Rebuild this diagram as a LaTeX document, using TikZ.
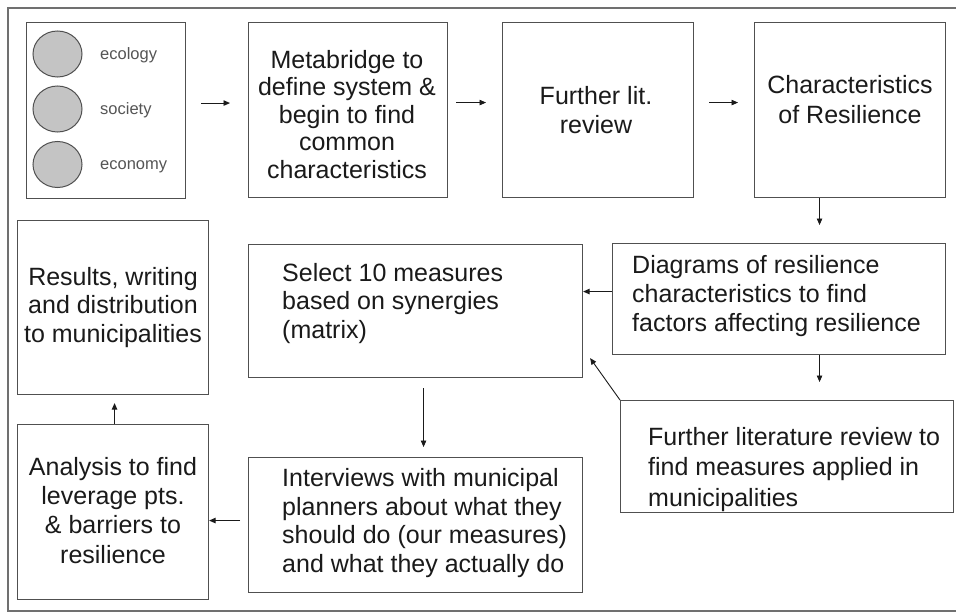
\documentclass[tikz,border=0pt]{standalone}
\usepackage{fontspec}
\setmainfont{Liberation Sans}
\usetikzlibrary{arrows.meta,calc,shapes.geometric}
\definecolor{framegray}{HTML}{707070}
\definecolor{boxgray}{HTML}{505050}
\definecolor{inkgray}{HTML}{1A1A1A}
\definecolor{discfill}{HTML}{C4C4C4}
\definecolor{labelgray}{HTML}{555555}
\tikzset{
  stepbox/.style={draw=boxgray, line width=1.1pt, inner sep=0pt, anchor=north west},
  bigtext/.style={font=\fontsize{25pt}{28.5pt}\selectfont, text=inkgray, inner sep=0pt, anchor=base},
  lefttext/.style={bigtext, align=left, anchor=base west},
  midtext/.style={bigtext, align=center},
  disc/.style={draw=boxgray, line width=1pt, fill=discfill, ellipse, inner sep=0pt},
  tag/.style={font=\fontsize{16.5pt}{19pt}\selectfont, text=labelgray, inner sep=0pt, anchor=base west},
  arr/.style={draw=inkgray, line width=0.9pt, -{Triangle[length=6.5pt,width=5.5pt]}},
}
\begin{document}
\begin{tikzpicture}[x=1pt,y=-1pt]
\useasboundingbox (0,0) rectangle (956,613);
\fill[white] (0,0) rectangle (956,613);
% outer frame (open on the right side)
\draw[framegray, line width=1.4pt] (962,8) -- (8,8) -- (8,611) -- (962,611);

% step boxes
\node[stepbox, minimum width=159pt, minimum height=176pt] (b1) at (26,22) {};
\node[stepbox, minimum width=199pt, minimum height=175pt] (b2) at (248,22) {};
\node[stepbox, minimum width=191pt, minimum height=175pt] (b3) at (502,22) {};
\node[stepbox, minimum width=191pt, minimum height=175pt] (b4) at (754,22) {};
\node[stepbox, minimum width=333pt, minimum height=111pt] (b5) at (612,243) {};
\node[stepbox, minimum width=334pt, minimum height=133pt] (b6) at (248,244) {};
\node[stepbox, minimum width=333pt, minimum height=112pt] (b7) at (620,400) {};
\node[stepbox, minimum width=334pt, minimum height=135pt] (b8) at (248,457) {};
\node[stepbox, minimum width=191pt, minimum height=175pt] (b9) at (17,424) {};
\node[stepbox, minimum width=191pt, minimum height=174pt] (b10) at (17,220) {};

% the three spheres
\node[disc, minimum width=49pt, minimum height=46pt] (c1) at (57.5,54) {};
\node[disc, minimum width=49pt, minimum height=46pt] (c2) at (57.5,109) {};
\node[disc, minimum width=49pt, minimum height=46pt] (c3) at (57.5,164.5) {};
\node[tag] (l1) at (100,59) {ecology};
\node[tag] (l2) at (100,114) {society};
\node[tag] (l3) at (100,169) {economy};

% step texts (each placed by the baseline of its last line)
\node[midtext, font=\fontsize{25pt}{27.5pt}\selectfont] (t2) at (347,178) {Metabridge to\\define system \&\\begin to find\\common\\characteristics};
\node[midtext, font=\fontsize{25pt}{29pt}\selectfont] (t3) at (596,133) {Further lit.\\review};
\node[midtext, font=\fontsize{25pt}{30pt}\selectfont] (t4) at (850,123) {Characteristics\\of Resilience};
\node[lefttext, font=\fontsize{25pt}{29pt}\selectfont] (t5) at (632,331) {Diagrams of resilience\\characteristics to find\\factors affecting resilience};
\node[lefttext] (t6) at (282,338) {Select 10 measures\\based on synergies\\(matrix)};
\node[lefttext, font=\fontsize{25pt}{30.5pt}\selectfont] (t7) at (648,506) {Further literature review to\\find measures applied in\\municipalities};
\node[lefttext] (t8) at (282,572) {Interviews with municipal\\planners about what they\\should do (our measures)\\and what they actually do};
\node[midtext, font=\fontsize{25pt}{29.3pt}\selectfont] (t9) at (113,563) {Analysis to find\\leverage pts.\\\& barriers to\\resilience};
\node[midtext] (t10) at (113,342) {Results, writing\\and distribution\\to municipalities};

% connectors
\coordinate (s1) at ([yshift=7.5pt]b1.east);
\draw[arr, shorten <=15pt, shorten >=18pt] (s1) -- (s1 -| b2.west);
\coordinate (s2) at ([yshift=7.5pt]b2.east);
\draw[arr, shorten <=8pt, shorten >=16pt] (s2) -- (s2 -| b3.west);
\coordinate (s3) at ([yshift=7.5pt]b3.east);
\draw[arr, shorten <=15pt, shorten >=16pt] (s3) -- (s3 -| b4.west);
\coordinate (s4) at ([xshift=-30.5pt]b4.south);
\draw[arr, shorten >=18pt] (s4) -- (s4 |- b5.north);
\coordinate (s5) at ([yshift=7.5pt]b5.west);
\draw[arr] (s5) -- (s5 -| b6.east);
\coordinate (s6) at ([xshift=40.5pt]b5.south);
\draw[arr, shorten >=18pt] (s6) -- (s6 |- b7.north);
\draw[arr] (b7.north west) -- ([shift={(7,-20)}]b6.south east);
\coordinate (s8) at ([xshift=8pt]b6.south);
\draw[arr, shorten <=10pt, shorten >=10pt] (s8) -- (s8 |- b8.north);
\coordinate (s9) at ([yshift=4.5pt]b8.west);
\draw[arr, shorten <=8pt] (s9) -- (s9 -| b9.east);
\coordinate (s10) at ([xshift=1.5pt]b9.north);
\draw[arr, shorten >=8pt] (s10) -- (s10 |- b10.south);
\end{tikzpicture}
\end{document}
